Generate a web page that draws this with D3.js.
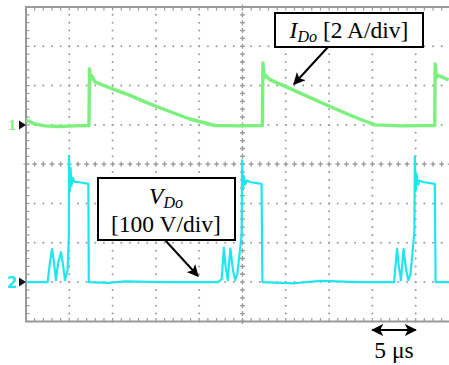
<!DOCTYPE html>
<html>
<head>
<meta charset="utf-8">
<script src="https://cdn.jsdelivr.net/npm/d3@7"></script>
<style>
  body { margin: 0; background: #fff; }
  svg { display: block; }
</style>
</head>
<body>
<div id="chart"></div>
<script>
const WIDTH = 449;
const HEIGHT = 365;

// channel 1: diode current I_Do, time in µs, current in A (2 A/div)
const currentTime = [0, 1, 2.2, 3.9, 5.7, 7.27, 7.33, 7.45, 7.6, 7.97, 9.7, 12, 14.3, 16.6, 18.9, 21.8, 24.7, 27.3,
  27.36, 27.5, 27.6, 28.2, 30, 31.6, 34, 36.3, 38.5, 40.3, 43.2, 47.2, 47.25, 47.4, 47.5, 48.8];
const currentValue = [0.25, 0.05, -0.05, -0.08, -0.05, -0.03, 2.85, 2.3, 2.5, 2.19, 1.88, 1.5, 1.07, 0.68, 0.3, -0.03, -0.05, -0.03,
  3.15, 2.4, 2.54, 2.29, 1.95, 1.63, 1.15, 0.71, 0.3, 0, -0.05, -0.03, 3.1, 2.4, 2.54, 2.29];

// channel 2: diode voltage V_Do, time in µs, voltage in V (100 V/div)
const voltageTime = [0, 2.5, 2.77, 3.0, 3.23, 3.46, 3.7, 4.04, 4.27, 4.5, 4.8, 4.95, 4.97, 5.05, 5.15, 5.25, 5.4, 5.6, 6.2, 7.2, 7.25,
  9.5, 11.5, 16.0, 22.2, 22.6, 22.85, 23.05, 23.3, 23.6, 23.9, 24.15, 24.4, 24.9, 24.95, 25.05, 25.15, 25.3, 25.5, 26.0, 27.2, 27.3,
  31.0, 34.0, 38.5, 42.5, 42.85, 43.05, 43.3, 43.6, 43.9, 44.15, 44.4, 44.85, 44.9, 45.0, 45.1, 45.25, 45.45, 46.0, 47.2, 47.3, 50];
const voltageValue = [0, 0, 51, 84, 50, 5, 48, 76, 45, 5, 30, 120, 321, 230, 290, 245, 265, 255, 254, 250, 0,
  -2, 2, 0, 0, 8, 87, 40, 5, 85, 30, 5, 20, 120, 310, 235, 270, 248, 258, 254, 250, 0,
  -3, 3, 0, 0, 85, 40, 5, 84, 30, 5, 20, 130, 320, 232, 275, 248, 258, 254, 250, 0, 0];

const timePerDiv = 5;
const ampsPerDiv = 2;
const voltsPerDiv = 100;
const ch1Offset = 1;   // divisions above centre
const ch2Offset = -3;

const svg = d3.select("#chart")
  .append("svg")
  .attr("width", WIDTH)
  .attr("height", HEIGHT)
  .attr("viewBox", `0 0 ${WIDTH} ${HEIGHT}`);

const x = d3.scaleLinear().domain([0, 10 * timePerDiv]).range([26, 26 + 433]);
const yDiv = d3.scaleLinear().domain([4, -4]).range([7, 321.4]);
const yI = v => yDiv(v / ampsPerDiv + ch1Offset);
const yV = v => yDiv(v / voltsPerDiv + ch2Offset);

svg.append("clipPath").attr("id", "screen")
  .append("rect").attr("x", 0).attr("y", 0).attr("width", WIDTH).attr("height", HEIGHT);

const grid = svg.append("g").attr("clip-path", "url(#screen)");
const gridColor = "#9a9a9a";

// dotted graticule lines
const xMinor = d3.range(0, 50.01, 1);
const yMinor = d3.range(-4, 4.01, 0.2);
for (let d = -3; d <= 3; d++) {
  grid.append("g").selectAll("circle")
    .data(xMinor)
    .join("circle")
    .attr("cx", t => x(t))
    .attr("cy", yDiv(d))
    .attr("r", 1)
    .attr("fill", gridColor);
}
for (let i = 1; i < 10; i++) {
  grid.append("g").selectAll("circle")
    .data(yMinor)
    .join("circle")
    .attr("cx", x(i * timePerDiv))
    .attr("cy", v => yDiv(v))
    .attr("r", 1)
    .attr("fill", gridColor);
}

// centre crosses
grid.append("g").selectAll("path")
  .data(xMinor)
  .join("path")
  .attr("d", t => `M${x(t)},${yDiv(0) - 2.5}V${yDiv(0) + 2.5}M${x(t) - 2.5},${yDiv(0)}H${x(t) + 2.5}`)
  .attr("stroke", gridColor)
  .attr("stroke-width", 1.3);
grid.append("g").selectAll("path")
  .data(yMinor)
  .join("path")
  .attr("d", v => `M${x(25) - 2.5},${yDiv(v)}H${x(25) + 2.5}M${x(25)},${yDiv(v) - 2.5}V${yDiv(v) + 2.5}`)
  .attr("stroke", gridColor)
  .attr("stroke-width", 1.3);

// border with minor ticks
grid.append("path")
  .attr("d", `M${x(50)},${yDiv(4)}H${x(0)}V${yDiv(-4)}H${x(50)}`)
  .attr("fill", "none")
  .attr("stroke", "#999")
  .attr("stroke-width", 2);
grid.append("g").selectAll("path")
  .data(yMinor)
  .join("path")
  .attr("d", v => `M${x(0)},${yDiv(v)}h3.5`)
  .attr("stroke", gridColor)
  .attr("stroke-width", 1.2);
grid.append("g").selectAll("path")
  .data(xMinor)
  .join("path")
  .attr("d", t => `M${x(t)},${yDiv(4)}v3.5M${x(t)},${yDiv(-4)}v-3.5`)
  .attr("stroke", gridColor)
  .attr("stroke-width", 1.2);

// traces
const currentLine = d3.line().x(d => x(d[0])).y(d => yI(d[1]));
const voltageLine = d3.line().x(d => x(d[0])).y(d => yV(d[1]));

grid.append("path")
  .datum(d3.zip(currentTime, currentValue))
  .attr("d", currentLine)
  .attr("fill", "none")
  .attr("stroke", "#7cf07c")
  .attr("stroke-width", 3.4)
  .attr("stroke-linejoin", "round");

grid.append("path")
  .datum(d3.zip(voltageTime, voltageValue))
  .attr("d", voltageLine)
  .attr("fill", "none")
  .attr("stroke", "#1ee6ee")
  .attr("stroke-width", 2.2)
  .attr("stroke-linejoin", "round");

// channel markers
const markers = [
  { label: "1", y: yI(0), color: "#7cf07c", font: "Liberation Serif" },
  { label: "2", y: yV(0), color: "#1ee6ee", font: "DejaVu Sans" }
];
markers.forEach(m => {
  svg.append("text")
    .attr("x", 12)
    .attr("y", m.y + 5.5)
    .attr("text-anchor", "middle")
    .attr("font-family", m.font)
    .attr("font-size", 15)
    .attr("font-weight", "bold")
    .attr("fill", m.color)
    .text(m.label);
  svg.append("path")
    .attr("d", `M${x(0) - 7},${m.y - 4.5}L${x(0)},${m.y}L${x(0) - 7},${m.y + 4.5}Z`)
    .attr("fill", "#111");
});

// annotations
const defs = svg.append("defs");
defs.append("marker")
  .attr("id", "head")
  .attr("viewBox", "0 0 10 10")
  .attr("refX", 9)
  .attr("refY", 5)
  .attr("markerWidth", 6)
  .attr("markerHeight", 6)
  .attr("orient", "auto-start-reverse")
  .append("path")
  .attr("d", "M0,0L10,5L0,10L2.5,5Z")
  .attr("fill", "#000");

const serif = "Liberation Serif, Times New Roman, serif";
const labelSize = 23.5;

// I_Do box
svg.append("rect")
  .attr("x", 275).attr("y", 13).attr("width", 148).attr("height", 34)
  .attr("fill", "#fff").attr("stroke", "#000").attr("stroke-width", 2);
const iText = svg.append("text")
  .attr("x", 349).attr("y", 38)
  .attr("text-anchor", "middle")
  .attr("font-family", serif)
  .attr("font-size", labelSize);
iText.append("tspan").attr("font-style", "italic").text("I");
iText.append("tspan").attr("font-style", "italic").attr("font-size", 16).attr("dy", 4).text("Do");
iText.append("tspan").attr("dy", -4).text(" [2 A/div]");
svg.append("line")
  .attr("x1", 328).attr("y1", 47).attr("x2", 294).attr("y2", 84)
  .attr("stroke", "#000").attr("stroke-width", 2)
  .attr("marker-end", "url(#head)");

// V_Do box
svg.append("rect")
  .attr("x", 98).attr("y", 178).attr("width", 137).attr("height", 62)
  .attr("fill", "#fff").attr("stroke", "#000").attr("stroke-width", 2);
const vText = svg.append("text")
  .attr("x", 166).attr("y", 204)
  .attr("text-anchor", "middle")
  .attr("font-family", serif)
  .attr("font-size", labelSize);
vText.append("tspan").attr("font-style", "italic").text("V");
vText.append("tspan").attr("font-style", "italic").attr("font-size", 16).attr("dy", 4).text("Do");
svg.append("text")
  .attr("x", 166).attr("y", 232)
  .attr("text-anchor", "middle")
  .attr("font-family", serif)
  .attr("font-size", labelSize)
  .text("[100 V/div]");
svg.append("line")
  .attr("x1", 165).attr("y1", 240).attr("x2", 198).attr("y2", 276)
  .attr("stroke", "#000").attr("stroke-width", 2)
  .attr("marker-end", "url(#head)");

// time scale bar
svg.append("line")
  .attr("x1", x(40)).attr("y1", 330).attr("x2", x(45)).attr("y2", 330)
  .attr("stroke", "#000").attr("stroke-width", 2)
  .attr("marker-start", "url(#head)")
  .attr("marker-end", "url(#head)");
svg.append("text")
  .attr("x", x(42.5)).attr("y", 358)
  .attr("text-anchor", "middle")
  .attr("font-family", serif)
  .attr("font-size", labelSize)
  .text("5 μs");
</script>
</body>
</html>
